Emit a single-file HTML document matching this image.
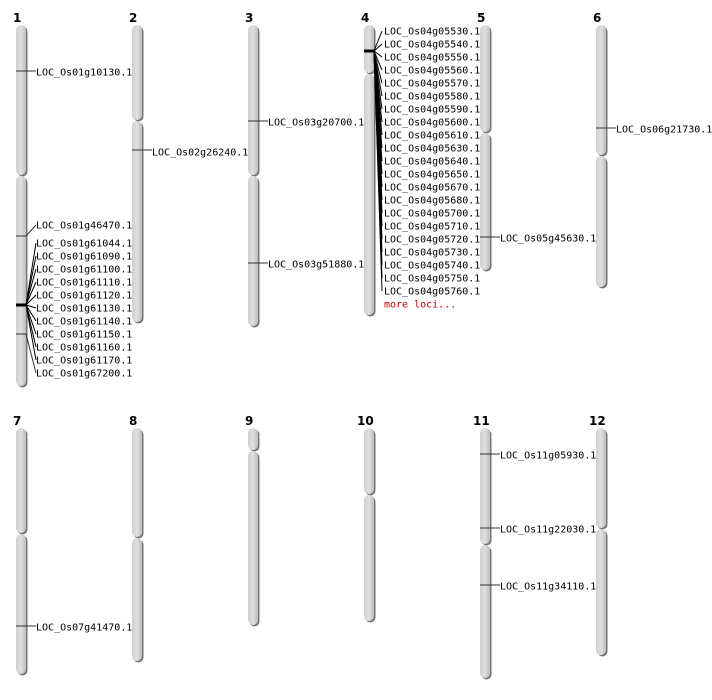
<html><body style="margin:0;background:#fff">
<svg width="712" height="700" xmlns="http://www.w3.org/2000/svg" font-family="DejaVu Sans Mono, Liberation Mono, monospace" font-size="10">
<defs>
<linearGradient id="g" x1="0" x2="1"><stop offset="0" stop-color="#cfcfcf"/><stop offset="0.5" stop-color="#e0e0e0"/><stop offset="1" stop-color="#bdbdbd"/></linearGradient>
</defs>
<g font-weight="bold" font-family="DejaVu Sans, sans-serif" font-size="12">
<text x="13" y="22">1</text><text x="129" y="22">2</text><text x="245" y="22">3</text><text x="361" y="22">4</text><text x="477" y="22">5</text><text x="593" y="22">6</text>
<text x="13" y="425">7</text><text x="129" y="425">8</text><text x="245" y="425">9</text><text x="357" y="425">10</text><text x="473" y="425">11</text><text x="589" y="425">12</text>
</g>
<g fill="#777" transform="translate(1.5,1.5)">
<rect x="16" y="25" width="10" height="150" rx="5"/><rect x="16" y="176" width="10" height="210" rx="5"/>
<rect x="132" y="25" width="10" height="95" rx="5"/><rect x="132" y="121" width="10" height="201" rx="5"/>
<rect x="248" y="25" width="10" height="150" rx="5"/><rect x="248" y="176" width="10" height="150" rx="5"/>
<rect x="364" y="25" width="10" height="48" rx="5"/><rect x="364" y="74" width="10" height="241" rx="5"/>
<rect x="480" y="25" width="10" height="107" rx="5"/><rect x="480" y="133" width="10" height="137" rx="5"/>
<rect x="596" y="25" width="10" height="130" rx="5"/><rect x="596" y="156" width="10" height="131" rx="5"/>
<rect x="16" y="428" width="10" height="105" rx="5"/><rect x="16" y="534" width="10" height="140" rx="5"/>
<rect x="132" y="428" width="10" height="109" rx="5"/><rect x="132" y="538" width="10" height="123" rx="5"/>
<rect x="248" y="428" width="10" height="22" rx="5"/><rect x="248" y="451" width="10" height="174" rx="5"/>
<rect x="364" y="428" width="10" height="66" rx="5"/><rect x="364" y="495" width="10" height="126" rx="5"/>
<rect x="480" y="428" width="10" height="116" rx="5"/><rect x="480" y="545" width="10" height="133" rx="5"/>
<rect x="596" y="428" width="10" height="100" rx="5"/><rect x="596" y="529" width="10" height="126" rx="5"/>
</g>
<g fill="url(#g)">
<rect x="16" y="25" width="10" height="150" rx="5"/><rect x="16" y="176" width="10" height="210" rx="5"/>
<rect x="132" y="25" width="10" height="95" rx="5"/><rect x="132" y="121" width="10" height="201" rx="5"/>
<rect x="248" y="25" width="10" height="150" rx="5"/><rect x="248" y="176" width="10" height="150" rx="5"/>
<rect x="364" y="25" width="10" height="48" rx="5"/><rect x="364" y="74" width="10" height="241" rx="5"/>
<rect x="480" y="25" width="10" height="107" rx="5"/><rect x="480" y="133" width="10" height="137" rx="5"/>
<rect x="596" y="25" width="10" height="130" rx="5"/><rect x="596" y="156" width="10" height="131" rx="5"/>
<rect x="16" y="428" width="10" height="105" rx="5"/><rect x="16" y="534" width="10" height="140" rx="5"/>
<rect x="132" y="428" width="10" height="109" rx="5"/><rect x="132" y="538" width="10" height="123" rx="5"/>
<rect x="248" y="428" width="10" height="22" rx="5"/><rect x="248" y="451" width="10" height="174" rx="5"/>
<rect x="364" y="428" width="10" height="66" rx="5"/><rect x="364" y="495" width="10" height="126" rx="5"/>
<rect x="480" y="428" width="10" height="116" rx="5"/><rect x="480" y="545" width="10" height="133" rx="5"/>
<rect x="596" y="428" width="10" height="100" rx="5"/><rect x="596" y="529" width="10" height="126" rx="5"/>
</g>
<g stroke="#333" stroke-width="1" fill="none">
<line x1="16" y1="71" x2="36" y2="71"/>
<line x1="132" y1="150" x2="152" y2="150"/>
<line x1="248" y1="121" x2="268" y2="121"/><line x1="248" y1="263" x2="268" y2="263"/>
<line x1="480" y1="237" x2="500" y2="237"/>
<line x1="596" y1="128" x2="616" y2="128"/>
<line x1="16" y1="626" x2="36" y2="626"/>
<line x1="480" y1="454" x2="500" y2="454"/><line x1="480" y1="528" x2="500" y2="528"/><line x1="480" y1="585" x2="500" y2="585"/>
<line x1="16" y1="236" x2="26" y2="236"/><line x1="26" y1="236" x2="36" y2="225"/>
<line x1="16" y1="334" x2="26" y2="334"/><line x1="26" y1="334" x2="36" y2="373"/>
</g>
<g stroke="#000" stroke-width="1">
<line x1="16" y1="305" x2="26" y2="305" stroke-width="3"/>
<line x1="26" y1="305" x2="36" y2="243"/><line x1="26" y1="305" x2="36" y2="256"/><line x1="26" y1="305" x2="36" y2="269"/><line x1="26" y1="305" x2="36" y2="282"/><line x1="26" y1="305" x2="36" y2="295"/><line x1="26" y1="305" x2="36" y2="308"/><line x1="26" y1="305" x2="36" y2="321"/><line x1="26" y1="305" x2="36" y2="334"/><line x1="26" y1="305" x2="36" y2="347"/><line x1="26" y1="305" x2="36" y2="360"/>
<line x1="364" y1="51" x2="374" y2="51" stroke-width="3"/>
<line x1="374" y1="51" x2="382" y2="31"/><line x1="374" y1="51" x2="382" y2="44"/><line x1="374" y1="51" x2="382" y2="57"/><line x1="374" y1="51" x2="382" y2="70"/><line x1="374" y1="51" x2="382" y2="83"/><line x1="374" y1="51" x2="382" y2="96"/><line x1="374" y1="51" x2="382" y2="109"/><line x1="374" y1="51" x2="382" y2="122"/><line x1="374" y1="51" x2="382" y2="135"/><line x1="374" y1="51" x2="382" y2="148"/><line x1="374" y1="51" x2="382" y2="161"/><line x1="374" y1="51" x2="382" y2="174"/><line x1="374" y1="51" x2="382" y2="187"/><line x1="374" y1="51" x2="382" y2="200"/><line x1="374" y1="51" x2="382" y2="213"/><line x1="374" y1="51" x2="382" y2="226"/><line x1="374" y1="51" x2="382" y2="239"/><line x1="374" y1="51" x2="382" y2="252"/><line x1="374" y1="51" x2="382" y2="265"/><line x1="374" y1="51" x2="382" y2="278"/><line x1="374" y1="51" x2="382" y2="291"/>
</g>
<g fill="#000" dominant-baseline="central" transform="translate(0,1)">
<text x="36" y="72">LOC_Os01g10130.1</text>
<text x="152" y="152">LOC_Os02g26240.1</text>
<text x="268" y="122">LOC_Os03g20700.1</text><text x="268" y="264">LOC_Os03g51880.1</text>
<text x="500" y="238">LOC_Os05g45630.1</text>
<text x="616" y="129">LOC_Os06g21730.1</text>
<text x="36" y="627">LOC_Os07g41470.1</text>
<text x="500" y="455">LOC_Os11g05930.1</text><text x="500" y="529">LOC_Os11g22030.1</text><text x="500" y="586">LOC_Os11g34110.1</text>
<text x="36" y="225">LOC_Os01g46470.1</text>
<text x="36" y="243">LOC_Os01g61044.1</text><text x="36" y="256">LOC_Os01g61090.1</text><text x="36" y="269">LOC_Os01g61100.1</text><text x="36" y="282">LOC_Os01g61110.1</text><text x="36" y="295">LOC_Os01g61120.1</text><text x="36" y="308">LOC_Os01g61130.1</text><text x="36" y="321">LOC_Os01g61140.1</text><text x="36" y="334">LOC_Os01g61150.1</text><text x="36" y="347">LOC_Os01g61160.1</text><text x="36" y="360">LOC_Os01g61170.1</text><text x="36" y="373">LOC_Os01g67200.1</text>
<text x="384" y="31">LOC_Os04g05530.1</text><text x="384" y="44">LOC_Os04g05540.1</text><text x="384" y="57">LOC_Os04g05550.1</text><text x="384" y="70">LOC_Os04g05560.1</text><text x="384" y="83">LOC_Os04g05570.1</text><text x="384" y="96">LOC_Os04g05580.1</text><text x="384" y="109">LOC_Os04g05590.1</text><text x="384" y="122">LOC_Os04g05600.1</text><text x="384" y="135">LOC_Os04g05610.1</text><text x="384" y="148">LOC_Os04g05630.1</text><text x="384" y="161">LOC_Os04g05640.1</text><text x="384" y="174">LOC_Os04g05650.1</text><text x="384" y="187">LOC_Os04g05670.1</text><text x="384" y="200">LOC_Os04g05680.1</text><text x="384" y="213">LOC_Os04g05700.1</text><text x="384" y="226">LOC_Os04g05710.1</text><text x="384" y="239">LOC_Os04g05720.1</text><text x="384" y="252">LOC_Os04g05730.1</text><text x="384" y="265">LOC_Os04g05740.1</text><text x="384" y="278">LOC_Os04g05750.1</text><text x="384" y="291">LOC_Os04g05760.1</text>
<text x="384" y="304" fill="#c00000">more loci...</text>
</g>
</svg>
</body></html>
